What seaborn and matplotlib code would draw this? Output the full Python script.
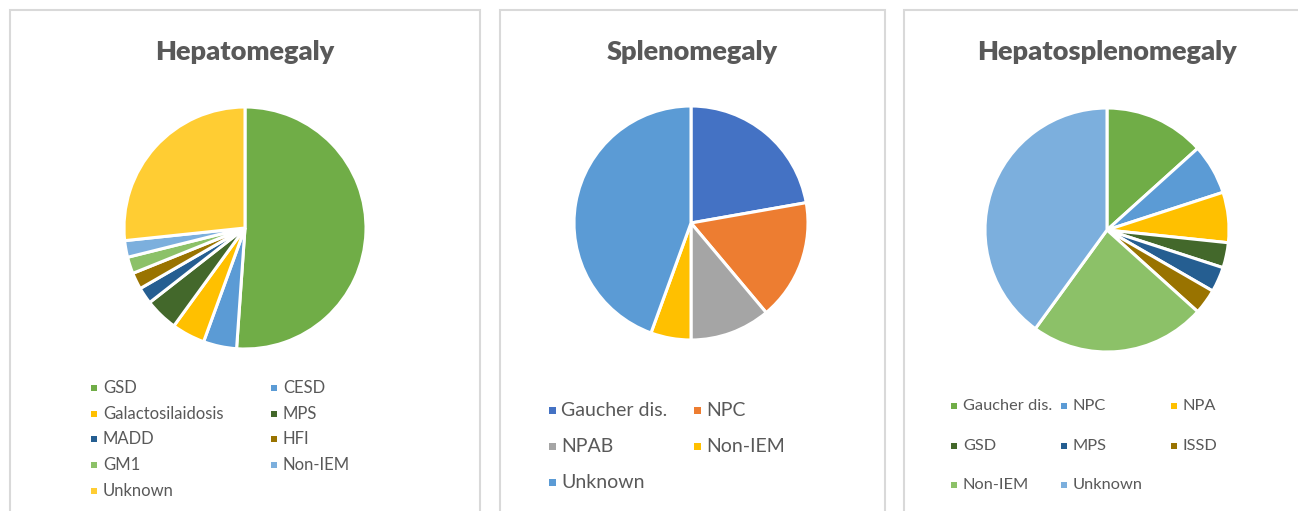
import matplotlib
matplotlib.use("Agg")
import matplotlib.pyplot as plt
import seaborn as sns
from matplotlib.patches import Rectangle

# --- data (patient counts) ---
hep_labels = ["GSD", "CESD", "Galactosilaidosis", "MPS", "MADD", "HFI", "GM1", "Non-IEM", "Unknown"]
hep_counts = [23, 2, 2, 2, 1, 1, 1, 1, 12]
hep_colors = ["#70AD47", "#5B9BD5", "#FFC000", "#43682B", "#255E91", "#997300", "#8CC168", "#7CAFDD", "#FFCD33"]

spl_labels = ["Gaucher dis.", "NPC", "NPAB", "Non-IEM", "Unknown"]
spl_counts = [4, 3, 2, 1, 8]
spl_colors = ["#4472C4", "#ED7D31", "#A5A5A5", "#FFC000", "#5B9BD5"]

hs_labels = ["Gaucher dis.", "NPC", "NPA", "GSD", "MPS", "ISSD", "Non-IEM", "Unknown"]
hs_counts = [4, 2, 2, 1, 1, 1, 7, 12]
hs_colors = ["#70AD47", "#5B9BD5", "#FFC000", "#43682B", "#255E91", "#997300", "#8CC168", "#7CAFDD"]

sns.set_theme(style="white")
plt.rcParams["font.family"] = ["Lato", "DejaVu Sans"]

W, H = 1298, 511
fig = plt.figure(figsize=(W / 100, H / 100), dpi=100)
fig.patch.set_facecolor("white")
TXT = "#595959"


def px(x, y):
    # pixel (top-left origin) -> figure fraction
    return x / W, 1 - y / H


# panel frames
for x0, x1 in [(10, 480), (500, 885), (904, 1310)]:
    fig.patches.append(Rectangle(px(x0, 520), (x1 - x0) / W, (520 - 10) / H,
                                 transform=fig.transFigure, fill=False,
                                 edgecolor="#D9D9D9", linewidth=1.5))

panels = [
    dict(title="Hepatomegaly", labels=hep_labels, counts=hep_counts, colors=hep_colors,
         cx=245, cy=228, r=121, tx=245, ncol=2, lx=94, dx=180, ly=388, dy=25.7, fs=12, ms=6),
    dict(title="Splenomegaly", labels=spl_labels, counts=spl_counts, colors=spl_colors,
         cx=691, cy=223, r=117, tx=692, ncol=2, lx=552, dx=145, ly=410, dy=36, fs=14, ms=7),
    dict(title="Hepatosplenomegaly", labels=hs_labels, counts=hs_counts, colors=hs_colors,
         cx=1107, cy=230, r=122, tx=1107, ncol=3, lx=954, dx=110, ly=406, dy=39.5, fs=11.8, ms=6),
]

for p in panels:
    r = p["r"]
    left, bottom = px(p["cx"] - r, p["cy"] + r)
    ax = fig.add_axes([left, bottom, 2 * r / W, 2 * r / H])
    ax.pie(p["counts"], colors=p["colors"], startangle=90, counterclock=False,
           wedgeprops=dict(edgecolor="white", linewidth=2.2))
    ax.set_xlim(-1, 1)
    ax.set_ylim(-1, 1)
    ax.axis("off")

    fig.text(*px(p["tx"], 52), p["title"], ha="center", va="center",
             fontsize=19.5, fontweight="heavy", color=TXT)

    # Excel-style legend grid, filled row by row
    for i, (lab, col) in enumerate(zip(p["labels"], p["colors"])):
        row, c = divmod(i, p["ncol"])
        x = p["lx"] + c * p["dx"]
        y = p["ly"] + row * p["dy"]
        msz = p["ms"]
        fig.patches.append(Rectangle(px(x - msz / 2, y + msz / 2), msz / W, msz / H,
                                     transform=fig.transFigure, color=col, linewidth=0))
        fig.text(*px(x + 9, y), lab, ha="left", va="center",
                 fontsize=p["fs"], color=TXT)

fig.savefig("out.png", dpi=100, facecolor="white")
